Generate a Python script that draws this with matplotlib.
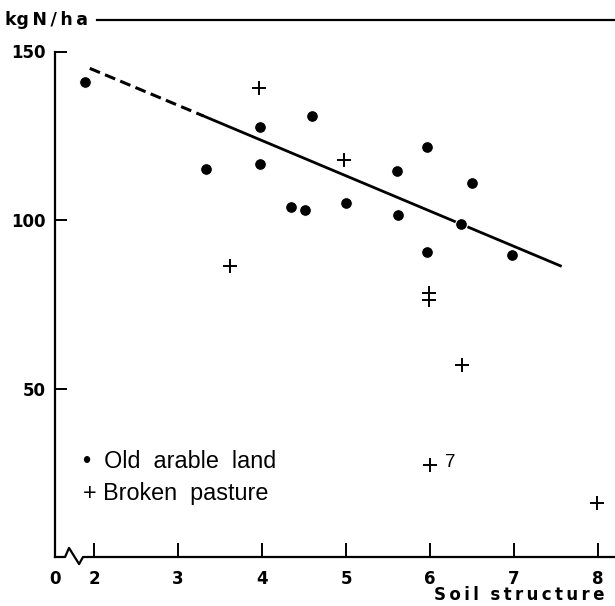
import matplotlib
matplotlib.use('Agg')
import matplotlib.pyplot as plt
from matplotlib.lines import Line2D

# old arable land (dots)
arable_x = [1.89, 3.33, 3.97, 3.97, 4.35, 4.51, 4.60, 5.00, 5.61, 5.62, 5.96, 5.96, 6.37, 6.50, 6.98]
arable_y = [141.0, 115.1, 127.5, 116.6, 103.8, 103.1, 130.9, 105.1, 114.6, 101.4, 121.8, 90.4, 98.8, 110.9, 89.5]

# broken pasture (crosses)
pasture_x = [3.62, 3.96, 4.97, 5.99, 5.99, 6.38, 6.00, 7.98]
pasture_y = [86.4, 139.1, 117.8, 78.2, 76.3, 57.0, 27.3, 16.0]
pasture_notes = ['', '', '', '', '', '', '7', '']

# regression line: dashed part (extrapolated) and solid part
dash_x = [1.95, 3.30]
dash_y = [145.0, 130.9]
solid_x = [3.30, 7.55]
solid_y = [130.9, 86.4]

xticks = [2, 3, 4, 5, 6, 7, 8]
yticks = [50, 100, 150]
legend_labels = ['\u2022  Old  arable  land', '+ Broken  pasture']

x_left, x_right = 1.536, 8.2

fig = plt.figure(figsize=(6.15, 6.06), dpi=100)
ax = fig.add_axes([55/615, 49/606, 560/615, 505.5/606])

ax.plot(dash_x, dash_y, color='black', lw=2.2, ls=(0, (3.6, 1.8)), solid_capstyle='butt')
ax.plot(solid_x, solid_y, color='black', lw=2.0)
ax.plot(arable_x, arable_y, 'o', color='black', ms=8.5, mec='white', mew=0.8, zorder=3)
ax.plot(pasture_x, pasture_y, '+', color='black', ms=9.5, mew=1.4, zorder=3)
for x, y, note in zip(pasture_x, pasture_y, pasture_notes):
    if note:
        ax.annotate(note, xy=(x, y), xytext=(11, 2), textcoords='offset points',
                    va='center', ha='left', fontsize=13.5, family='Liberation Sans')

ax.set_xlim(x_left, x_right)
ax.set_ylim(0, 150)

ax.spines['top'].set_visible(False)
ax.spines['right'].set_visible(False)
ax.spines['bottom'].set_visible(False)
ax.spines['left'].set_linewidth(1.6)

# x axis with break near the origin
brk_x = [0, 0.018, 0.025, 0.043, 0.05, 1.0]
brk_y = [0, 0, 0.018, -0.014, 0, 0]
ax.plot(brk_x, brk_y, color='black', lw=1.6, transform=ax.transAxes, clip_on=False)

ax.set_xticks([x_left] + xticks)
ax.set_xticklabels(['0'] + [str(t) for t in xticks])
ax.set_yticks(yticks)
ax.set_yticklabels([str(t) for t in yticks])
ax.tick_params(axis='x', direction='in', length=10, width=1.4, pad=9, labelsize=12)
ax.tick_params(axis='y', direction='in', length=8.5, width=1.4, pad=7, labelsize=12)
for lab in ax.get_xticklabels() + ax.get_yticklabels():
    lab.set_fontweight('bold')
ax.xaxis.get_major_ticks()[0].tick1line.set_visible(False)

# legend as typeset text
for i, lab in enumerate(legend_labels):
    ax.text(0.05, 0.188 - i * 0.063, lab, transform=ax.transAxes, ha='left', va='center',
            fontsize=16.8, family='Liberation Sans')

# axis titles
fig.text(5/615, 1 - 20/606, 'kg\u2009N\u2009/\u2009h\u2009a', ha='left', va='center', fontsize=12.5, fontweight='bold')
fig.add_artist(Line2D([97/615, 1.0], [1 - 20/606, 1 - 20/606], color='black', lw=1.6))
fig.text(604/615, 1 - 595/606, 'S\u2009o\u2009i\u2009l  s\u2009t\u2009r\u2009u\u2009c\u2009t\u2009u\u2009r\u2009e',
         ha='right', va='center', fontsize=12, fontweight='bold')

fig.savefig('out.png', dpi=100)
